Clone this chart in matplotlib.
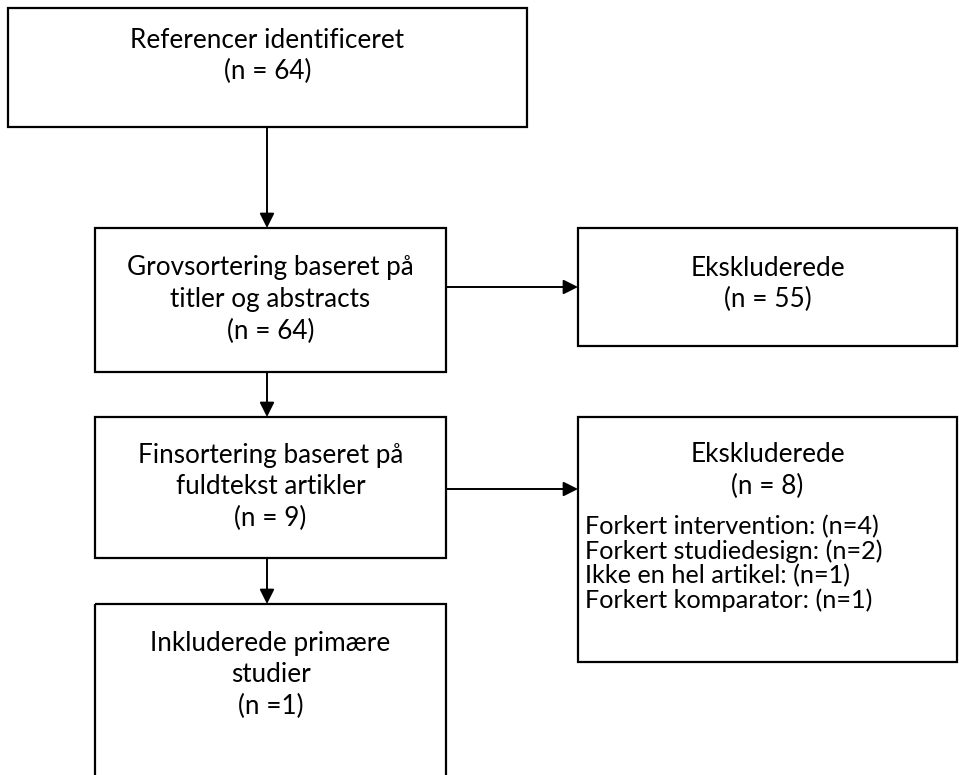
import matplotlib.pyplot as plt
from matplotlib.patches import Rectangle

plt.rcParams['font.family'] = ['Lato', 'DejaVu Sans']

# flow steps (text) and counts
main_steps = ["Referencer identificeret",
              "Grovsortering baseret på\ntitler og abstracts",
              "Finsortering baseret på\nfuldtekst artikler",
              "Inkluderede primære\nstudier"]
main_counts = ["(n = 64)", "(n = 64)", "(n = 9)", "(n =1)"]
excl_titles = ["Ekskluderede", "Ekskluderede"]
excl_counts = ["(n = 55)", "(n = 8)"]
reasons = ["Forkert intervention: (n=4)",
           "Forkert studiedesign: (n=2)",
           "Ikke en hel artikel: (n=1)",
           "Forkert komparator: (n=1)"]

# box layout in pixels: x0, y0, x1, y1
main_boxes = [(8, 8, 527, 127), (95, 228, 446, 372),
              (95, 417, 446, 558), (95, 604, 446, 790)]
excl_boxes = [(578, 228, 957, 346), (578, 417, 957, 662)]

fig = plt.figure(figsize=(9.59, 7.75), dpi=100)
ax = fig.add_axes([0, 0, 1, 1])
ax.set_xlim(0, 959)
ax.set_ylim(775, 0)
ax.axis('off')

fs = 18.8
lh = 31.5

def box(b):
    x0, y0, x1, y1 = b
    ax.add_patch(Rectangle((x0, y0), x1 - x0, y1 - y0, fill=False,
                           edgecolor='black', linewidth=1.6))

def arrow(x0, y0, x1, y1):
    ax.annotate("", xy=(x1, y1), xytext=(x0, y0),
                arrowprops=dict(arrowstyle='-|>', color='black', lw=1.4,
                                mutation_scale=22, shrinkA=0, shrinkB=0))

text_tops = [40, 268, 455, 643]
for i, b in enumerate(main_boxes):
    box(b)
    cx = (b[0] + b[2]) / 2
    lines = main_steps[i].split("\n") + [main_counts[i]]
    for j, ln in enumerate(lines):
        ax.text(cx, text_tops[i] + j * lh, ln, ha='center', va='center', fontsize=fs)

excl_tops = [268, 455]
for i, b in enumerate(excl_boxes):
    box(b)
    cx = (b[0] + b[2]) / 2
    ax.text(cx, excl_tops[i], excl_titles[i], ha='center', va='center', fontsize=fs)
    ax.text(cx, excl_tops[i] + lh, excl_counts[i], ha='center', va='center', fontsize=fs)

for k, r in enumerate(reasons):
    ax.text(585, 527 + k * 24.5, r, ha='left', va='center', fontsize=18.2)

# vertical arrows
cx = 267
arrow(cx, 127, cx, 228)
arrow(cx, 372, cx, 417)
arrow(cx, 558, cx, 604)
# horizontal arrows
arrow(446, 287, 578, 287)
arrow(446, 489, 578, 489)

fig.savefig("out.png", dpi=100)
